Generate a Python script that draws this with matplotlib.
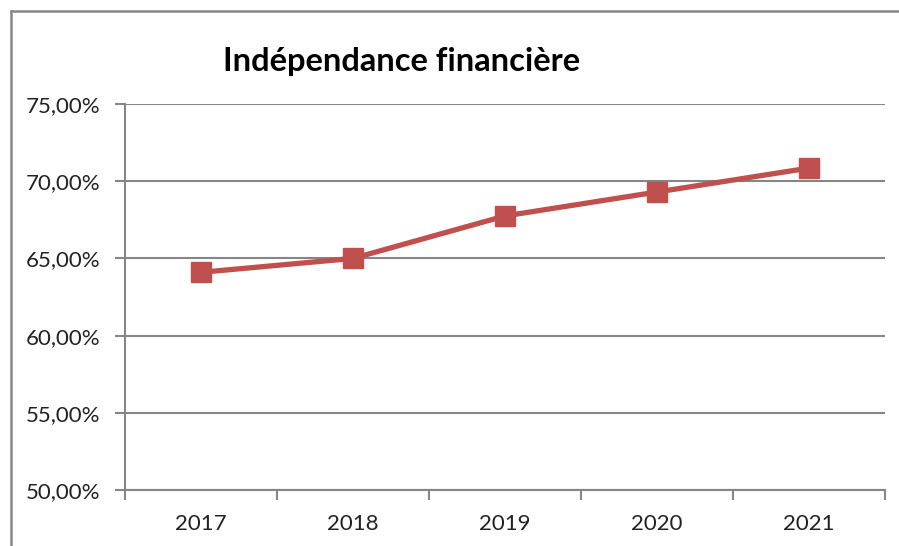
import matplotlib
matplotlib.use("Agg")
import matplotlib.pyplot as plt
from matplotlib.lines import Line2D
from matplotlib.ticker import FuncFormatter, FixedLocator

years = ["2017", "2018", "2019", "2020", "2021"]
values = [64.1, 65.0, 67.75, 69.3, 70.85]
yticks = [50, 55, 60, 65, 70, 75]
title = "Indépendance financière"

plt.rcParams['font.family'] = ['Lato', 'DejaVu Sans']

fig = plt.figure(figsize=(8.99, 5.46), dpi=100)
ax = fig.add_axes([125/899, 56/546, 760/899, 386/546])

x = list(range(len(years)))
ax.plot(x, values, color='#C0504D', lw=3.8, marker='s', markersize=14,
        markerfacecolor='#C0504D', markeredgecolor='#C0504D', zorder=3)

ax.set_xlim(-0.5, len(years) - 0.5)
ax.set_ylim(50, 75)
ax.set_yticks(yticks)
ax.yaxis.set_major_formatter(FuncFormatter(lambda v, p: f"{v:.2f}%".replace('.', ',')))
ax.set_xticks(x)
ax.set_xticklabels(years)
ax.xaxis.set_minor_locator(FixedLocator([i - 0.5 for i in range(len(years) + 1)]))
ax.tick_params(axis='x', which='major', length=0, pad=17, labelsize=16, colors='#222222')
ax.tick_params(axis='x', which='minor', length=7, width=1.5, color='#868686', direction='out')
ax.tick_params(axis='y', length=7, width=1.5, color='#868686', labelsize=16, pad=11, labelcolor='#222222')

ax.grid(axis='y', color='#868686', lw=1.5, zorder=1)
for s in ['top', 'right']:
    ax.spines[s].set_visible(False)
for s in ['left', 'bottom']:
    ax.spines[s].set_color('#868686')
    ax.spines[s].set_linewidth(1.5)

fig.text(402/899, 1 - 62/546, title, ha='center', va='center', fontsize=23.5,
         fontweight='bold', color='black')

# outer border (chart area frame, cropped at right and bottom)
fig.add_artist(Line2D([11/899, 1.0], [1 - 11/546, 1 - 11/546], color='#888888', lw=1.8,
                      transform=fig.transFigure))
fig.add_artist(Line2D([11/899, 11/899], [0.0, 1 - 11/546], color='#888888', lw=1.8,
                      transform=fig.transFigure))

fig.savefig("out.png", dpi=100)
